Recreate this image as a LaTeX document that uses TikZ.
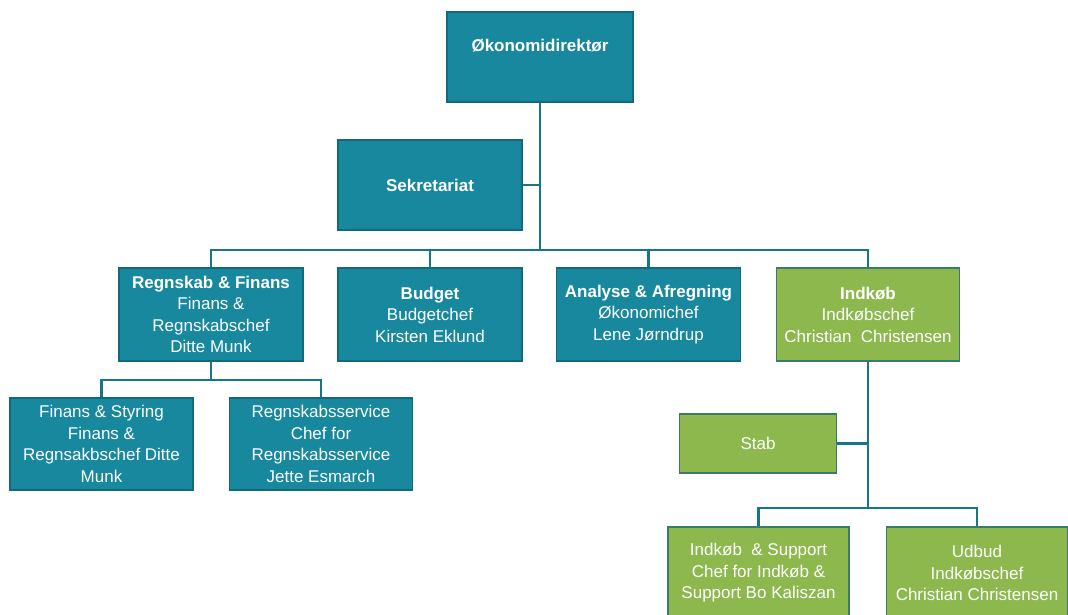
\documentclass[tikz,border=0pt]{standalone}
\usepackage{fontspec}
\setmainfont{Liberation Sans}
\begin{document}
\begin{tikzpicture}[x=1pt,y=-1pt,
  orgbox/.style={draw, line width=1.8pt, rectangle, text=white, align=center,
    font=\fontsize{17}{21.5}\selectfont, inner sep=2pt},
  tealbox/.style={orgbox, fill=tealfill, draw=tealedge},
  greenbox/.style={orgbox, fill=greenfill, draw=greenedge},
  link/.style={draw=linkcol, line width=2.6pt}]
\definecolor{tealfill}{RGB}{24,136,158}
\definecolor{tealedge}{RGB}{16,106,124}
\definecolor{greenfill}{RGB}{141,184,78}
\definecolor{greenedge}{RGB}{58,124,104}
\definecolor{linkcol}{RGB}{22,118,138}
\useasboundingbox (0,0) rectangle (1068,614);
\clip (0,0) rectangle (1068,614);
\fill[white] (0,0) rectangle (1068,614);

% top management
\node[tealbox, minimum width=186pt, minimum height=90pt, text height=12pt, text depth=24pt]
  (dir) at (540,57) {\textbf{Økonomidirektør}};
\node[tealbox, minimum width=184pt, minimum height=90pt] (sek) at (430,185) {\textbf{Sekretariat}};

% departments
\node[tealbox, minimum width=184pt, minimum height=93pt] (rf) at (211,314.5)
  {\textbf{Regnskab \& Finans}\\Finans \&\\Regnskabschef\\Ditte Munk};
\node[tealbox, minimum width=184pt, minimum height=93pt] (bud) at (430,314.5)
  {\textbf{Budget}\\Budgetchef\\Kirsten Eklund};
\node[tealbox, minimum width=184pt, minimum height=93pt] (ana) at (648.5,314.5)
  {\textbf{Analyse \& Afregning}\\Økonomichef\\Lene Jørndrup};
\node[greenbox, minimum width=183pt, minimum height=93pt] (ind) at (868,314.5)
  {\textbf{Indkøb}\\Indkøbschef\\Christian\ \ Christensen};

% sub units of Regnskab & Finans
\node[tealbox, minimum width=183pt, minimum height=92pt] (fs) at (101.5,444)
  {Finans \& Styring\\Finans \&\\Regnsakbschef Ditte\\Munk};
\node[tealbox, minimum width=183pt, minimum height=92pt] (rs) at (321,444)
  {Regnskabsservice\\Chef for\\Regnskabsservice\\Jette Esmarch};

% sub units of Indkøb
\node[greenbox, minimum width=157pt, minimum height=59pt] (stab) at (758,443.5) {Stab};
\node[greenbox, minimum width=181pt, minimum height=92pt] (is) at (758.5,573)
  {Indkøb\ \ \& Support\\Chef for Indkøb \&\\Support Bo Kaliszan};
\node[greenbox, minimum width=181pt, minimum height=92pt] (ud) at (977,573)
  {Udbud\\Indkøbschef\\Christian Christensen};

% connectors
\coordinate (j1) at (540,250);
\coordinate (j2) at (211,380);
\coordinate (j3) at (868,508);
\draw[link] (dir.south) -- (j1);
\draw[link] (sek.east) -- (sek.east -| dir.south);
\draw[link] (rf.north) |- (j1) -| (ind.north);
\draw[link] (bud.north) -- (bud.north |- j1);
\draw[link] (ana.north) -- (ana.north |- j1);
\draw[link] (rf.south) -- (j2);
\draw[link] (fs.north) |- (j2) -| (rs.north);
\draw[link] (ind.south) -- (j3);
\draw[link] (stab.east) -- (stab.east -| ind.south);
\draw[link] (is.north) |- (j3) -| (ud.north);
\end{tikzpicture}
\end{document}
